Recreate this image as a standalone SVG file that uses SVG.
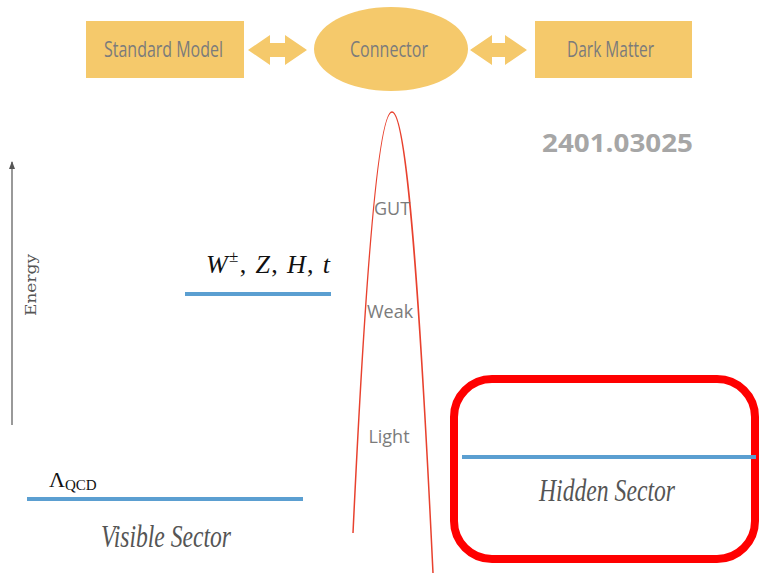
<svg xmlns="http://www.w3.org/2000/svg" width="759" height="573" viewBox="0 0 759 573">
  <defs>
    <style>
      .box { fill: #f5c96b; }
      .lbl { font-family: "Open Sans", "Lato", sans-serif; font-size: 21px; fill: #7b7b7b; }
      .scale { font-family: "Open Sans", "Lato", sans-serif; font-size: 18px; fill: #7b7b7b; text-anchor: middle; }
      .level { stroke: #5b9fd1; stroke-width: 4; fill: none; }
      .math { font-family: "Liberation Serif", "DejaVu Serif", serif; font-style: italic; fill: #111; }
      .sector { font-family: "Liberation Serif", "DejaVu Serif", serif; font-style: italic; font-size: 31px; fill: #555; }
    </style>
    <marker id="ah" viewBox="0 0 8 8" refX="7" refY="4" markerWidth="8" markerHeight="8" orient="auto" markerUnits="userSpaceOnUse">
      <path d="M0,1 L8,4 L0,7 Z" fill="#555"/>
    </marker>
  </defs>
  <rect width="759" height="573" fill="#ffffff"/>

  <g id="standard-model">
    <rect class="box" x="86" y="21" width="158" height="57"/>
    <text class="lbl" x="104" y="57" textLength="119" lengthAdjust="spacingAndGlyphs">Standard Model</text>
  </g>
  <g id="connector">
    <ellipse class="box" cx="391" cy="49" rx="77" ry="42"/>
    <text class="lbl" x="350" y="57" textLength="78" lengthAdjust="spacingAndGlyphs">Connector</text>
  </g>
  <g id="dark-matter">
    <rect class="box" x="535" y="21" width="157" height="57"/>
    <text class="lbl" x="567" y="57" textLength="87" lengthAdjust="spacingAndGlyphs">Dark Matter</text>
  </g>

  <g id="connectors">
    <path class="box" d="M248,50 L270,35 L270,43 L285,43 L285,35 L307,50 L285,65 L285,57 L270,57 L270,65 Z"/>
    <path class="box" d="M470,50 L492,35 L492,43 L505,43 L505,35 L527,50 L505,65 L505,57 L492,57 L492,65 Z"/>
  </g>

  <text x="542" y="152" font-family="Open Sans, Liberation Sans, sans-serif" font-weight="bold" font-size="25" fill="#a6a6a6" textLength="151" lengthAdjust="spacingAndGlyphs">2401.03025</text>

  <g id="energy-axis">
    <line x1="12" y1="425" x2="12" y2="162" stroke="#555" stroke-width="1.2" marker-end="url(#ah)"/>
    <text x="0" y="0" transform="translate(36,285) rotate(-90)" text-anchor="middle" font-family="DejaVu Serif, Liberation Serif, serif" font-size="15" fill="#555" textLength="62" lengthAdjust="spacingAndGlyphs">Energy</text>
  </g>

  <g id="scale-curve">
    <path d="M353,533 C364,300 377,112 392,112 C407,112 420,300 433,573" fill="none" stroke="#e8412e" stroke-width="1.5"/>
    <text class="scale" x="392" y="215">GUT</text>
    <text class="scale" x="390" y="318">Weak</text>
    <text class="scale" x="389" y="443">Light</text>
  </g>

  <g id="ew-level">
    <line class="level" x1="185" y1="294" x2="331" y2="294"/>
    <text class="math" x="206" y="273" font-size="26" textLength="124" lengthAdjust="spacing">W<tspan font-style="normal" font-size="17" dy="-11">±</tspan><tspan dy="11" font-style="normal">,  </tspan>Z<tspan font-style="normal">,  </tspan>H<tspan font-style="normal">,  </tspan>t</text>
  </g>

  <g id="qcd-level">
    <line class="level" x1="27" y1="499" x2="303" y2="499"/>
    <text x="49" y="487" font-family="Liberation Serif, DejaVu Serif, serif" font-size="22" fill="#111">Λ<tspan font-size="15" dy="3">QCD</tspan></text>
  </g>

  <text class="sector" x="166" y="547" text-anchor="middle" textLength="130" lengthAdjust="spacingAndGlyphs">Visible Sector</text>

  <g id="hidden-sector">
    <rect x="454" y="379" width="301" height="180" rx="38" ry="38" fill="none" stroke="#ff0000" stroke-width="8"/>
    <line class="level" x1="462" y1="457" x2="756" y2="457"/>
    <text class="sector" x="607" y="501" text-anchor="middle" textLength="136" lengthAdjust="spacingAndGlyphs">Hidden Sector</text>
  </g>
</svg>
